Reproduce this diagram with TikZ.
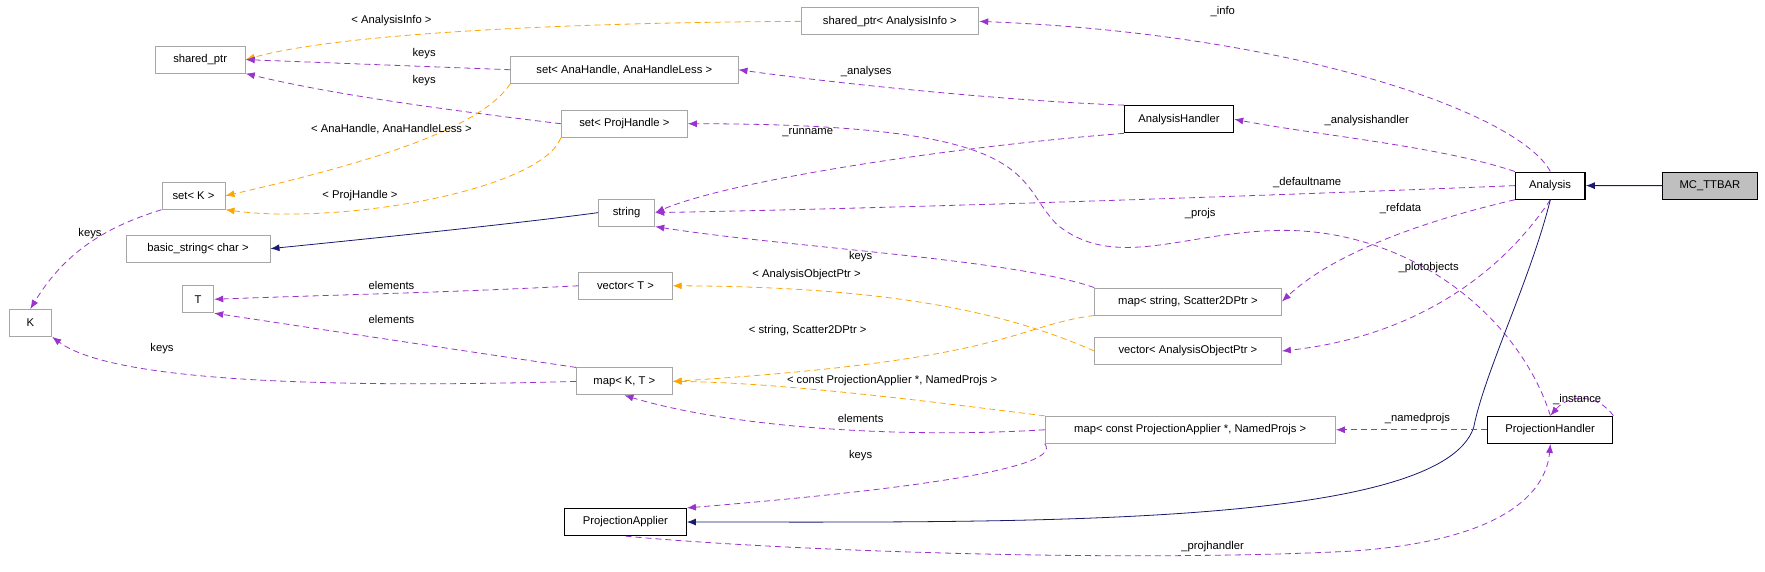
\documentclass[tikz,border=0pt]{standalone}
\usepackage{fontspec}
\setmainfont{Liberation Sans}
\usetikzlibrary{arrows.meta}
\definecolor{pur}{HTML}{9A32CD}
\definecolor{org}{HTML}{FFA500}
\definecolor{nav}{HTML}{191970}
\begin{document}
\begin{tikzpicture}[x=1pt,y=-1pt,scale=1.125,every node/.append style={transform shape},
 font=\fontsize{10}{11}\selectfont, line width=0.8pt,
 g/.style={draw=black!35,rectangle,minimum height=24pt,inner sep=2pt},
 b/.style={draw=black,line width=1.1pt,rectangle,minimum height=24pt,inner sep=2pt},
 pe/.style={draw=pur,dash pattern=on 6pt off 4pt,-{Latex[length=9pt,width=7pt]}},
 oe/.style={draw=org,dash pattern=on 6pt off 4pt,-{Latex[length=9pt,width=7pt]}},
 ne/.style={draw=nav,-{Latex[length=9pt,width=7pt]}},
 lb/.style={inner sep=1pt}]
\useasboundingbox (0,0) rectangle (1569,508);
\node[b,fill=black!25,minimum width=84pt] (mc) at (1520,165) {MC\_TTBAR};
\node[b,minimum width=62pt] (an) at (1378,165) {Analysis};
\node[g,minimum width=158pt] (sai) at (791,19) {shared\_ptr< AnalysisInfo >};
\node[g,minimum width=80pt] (sp) at (178,53) {shared\_ptr};
\node[g,minimum width=202pt] (sah) at (555,62) {set< AnaHandle, AnaHandleLess >};
\node[b,minimum width=97pt] (ah) at (1048,106) {AnalysisHandler};
\node[g,minimum width=112pt] (sph) at (555,110) {set< ProjHandle >};
\node[g,minimum width=56pt] (sk) at (172,174) {set< K >};
\node[g,minimum width=50pt] (st) at (557,189) {string};
\node[g,minimum width=128pt] (bs) at (176,221) {basic\_string< char >};
\node[g,minimum width=83pt] (vt) at (556,254) {vector< T >};
\node[g,minimum width=28pt] (T) at (176,266) {T};
\node[g,minimum width=38pt] (K) at (27,287) {K};
\node[g,minimum width=166pt] (msc) at (1056,268) {map< string, Scatter2DPtr >};
\node[g,minimum width=166pt] (vao) at (1056,312) {vector< AnalysisObjectPtr >};
\node[g,minimum width=85pt] (mkt) at (555,339) {map< K, T >};
\node[g,minimum width=258pt] (mpa) at (1058,382) {map< const ProjectionApplier *, NamedProjs >};
\node[b,minimum width=111pt] (ph) at (1378,382) {ProjectionHandler};
\node[b,minimum width=108pt] (pa) at (556,464) {ProjectionApplier};

\draw[ne] (mc) -- (an);
\draw[pe] (an.north) .. controls (1350,100) and (1150,30) .. (sai.east);
\node[lb] at (1087,10) {\_info};
\draw[oe] (sai.west) .. controls (500,20) and (300,30) .. (sp.east);
\node[lb] at (348,18) {< AnalysisInfo >};
\draw[pe] (sah.west) -- (sp.east);
\node[lb] at (377,48) {keys};
\draw[pe] (sph.west) .. controls (400,98) and (300,85) .. (sp.south east);
\node[lb] at (377,72) {keys};
\draw[oe] (sah.south west) .. controls (430,110) and (350,140) .. (sk.east);
\node[lb] at (348,115) {< AnaHandle, AnaHandleLess >};
\draw[oe] (sph.south west) .. controls (480,170) and (300,200) .. (sk.south east);
\node[lb] at (320,174) {< ProjHandle >};
\draw[pe] (sk.south west) .. controls (100,200) and (60,220) .. (K.north);
\node[lb] at (80,208) {keys};
\draw[pe] (ah.north west) .. controls (900,90) and (750,75) .. (sah.east);
\node[lb] at (770,64) {\_analyses};
\draw[pe] (ah.south west) .. controls (850,130) and (650,160) .. (st.east);
\node[lb] at (718,118) {\_runname};
\draw[pe] (an.north west) .. controls (1280,130) and (1170,120) .. (ah.east);
\node[lb] at (1215,107) {\_analysishandler};
\draw[pe] (an.west) .. controls (1100,175) and (800,185) .. (st.east);
\node[lb] at (1162,162) {\_defaultname};
\draw[ne] (st.west) .. controls (450,200) and (300,215) .. (bs.east);
\draw[pe] (ph.north) .. controls (1350,280) and (1250,200) .. (1130,205) .. controls (1050,208) and (990,240) .. (940,200) .. controls (900,160) and (930,110) .. (sph.east);
\node[lb] at (1067,190) {\_projs};
\draw[pe] (an.south west) .. controls (1250,200) and (1180,230) .. (msc.east);
\node[lb] at (1245,185) {\_refdata};
\draw[pe] (msc.north west) .. controls (900,230) and (700,220) .. (st.south east);
\node[lb] at (765,228) {keys};
\draw[pe] (an.south) .. controls (1330,250) and (1250,300) .. (vao.east);
\node[lb] at (1270,238) {\_plotobjects};
\draw[oe] (vao.west) .. controls (900,280) and (800,255) .. (vt.east);
\node[lb] at (717,244) {< AnalysisObjectPtr >};
\draw[pe] (vt.west) .. controls (400,260) and (300,262) .. (T.east);
\node[lb] at (348,254) {elements};
\draw[pe] (mkt.north west) .. controls (400,310) and (300,295) .. (T.south east);
\node[lb] at (348,284) {elements};
\draw[pe] (mkt.west) .. controls (300,345) and (100,340) .. (K.south east);
\node[lb] at (144,310) {keys};
\draw[oe] (msc.south west) .. controls (900,290) and (900,320) .. (mkt.east);
\node[lb] at (718,294) {< string, Scatter2DPtr >};
\draw[oe] (mpa.north west) .. controls (850,360) and (700,340) .. (mkt.east);
\node[lb] at (793,338) {< const ProjectionApplier *, NamedProjs >};
\draw[pe] (mpa.west) .. controls (800,390) and (650,380) .. (mkt.south);
\node[lb] at (765,372) {elements};
\draw[pe] (mpa.south west) .. controls (950,420) and (750,440) .. (pa.north east);
\node[lb] at (765,405) {keys};
\draw[ne] (an.south) .. controls (1360,250) and (1320,330) .. (1310,380) .. controls (1280,470) and (900,464) .. (pa.east);
\draw[pe] (ph.west) -- (mpa.east);
\node[lb] at (1260,372) {\_namedprojs};
\draw[pe] (ph.north east) .. controls (1420,350) and (1395,350) .. (ph.north);
\node[lb] at (1402,355) {\_instance};
\draw[pe] (pa.south) .. controls (700,490) and (1000,500) .. (1200,490) .. controls (1350,480) and (1375,430) .. (ph.south);
\node[lb] at (1078,486) {\_projhandler};
\end{tikzpicture}
\end{document}
